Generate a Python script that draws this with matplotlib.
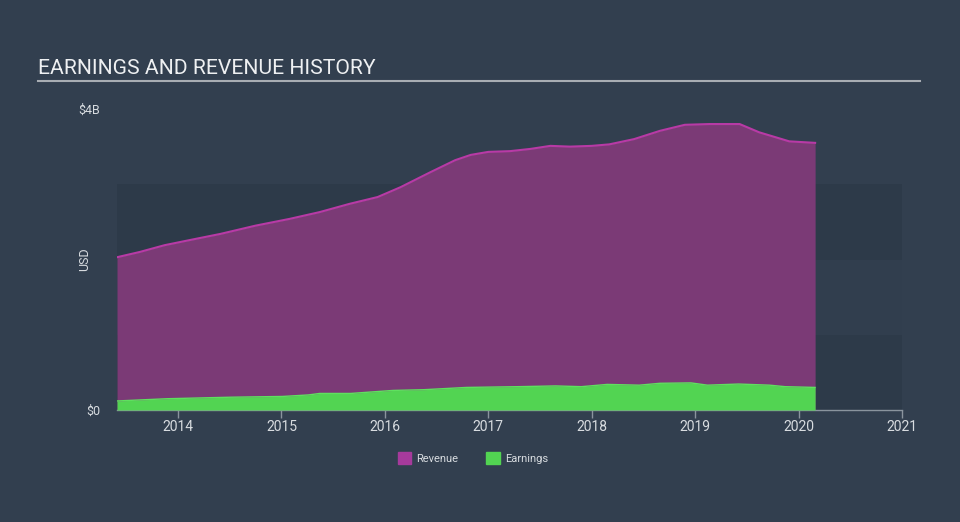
import numpy as np
import matplotlib.pyplot as plt
from matplotlib.patches import Patch

plt.rcParams['font.family'] = ['Roboto', 'DejaVu Sans']

# values in $B, dates as decimal years
rev_years = [2013.41, 2013.63, 2013.87, 2014.12, 2014.41, 2014.75, 2015.08, 2015.37,
             2015.66, 2015.93, 2016.15, 2016.44, 2016.68, 2016.83, 2017.00, 2017.21,
             2017.41, 2017.60, 2017.79, 2018.00, 2018.17, 2018.41, 2018.66, 2018.90,
             2019.14, 2019.43, 2019.62, 2019.91, 2020.16]
revenue = [2.03, 2.10, 2.19, 2.26, 2.34, 2.45, 2.54, 2.63,
           2.74, 2.83, 2.96, 3.16, 3.32, 3.39, 3.43, 3.44,
           3.47, 3.51, 3.50, 3.51, 3.53, 3.60, 3.71, 3.79,
           3.80, 3.80, 3.69, 3.57, 3.55]

earn_years = [2013.41, 2013.90, 2014.51, 2015.01, 2015.26, 2015.37, 2015.67, 2016.08,
              2016.38, 2016.79, 2017.29, 2017.65, 2017.90, 2018.15, 2018.46, 2018.66,
              2018.96, 2019.12, 2019.42, 2019.72, 2019.87, 2020.16]
earnings = [0.12, 0.15, 0.17, 0.18, 0.20, 0.22, 0.22, 0.26,
            0.27, 0.30, 0.31, 0.32, 0.31, 0.34, 0.33, 0.355,
            0.36, 0.33, 0.345, 0.33, 0.31, 0.30]

year_ticks = [2014, 2015, 2016, 2017, 2018, 2019, 2020, 2021]

BG = '#323f4f'
BAND = '#2d3a49'
TXT = '#d8dce0'

fig = plt.figure(figsize=(9.6, 5.22), dpi=100, facecolor=BG)
ax = fig.add_axes([117/960, 1 - 410/522, 785/960, 301/522])
ax.set_facecolor(BG)

# shaded bands
ax.axhspan(0, 1, color=BAND, zorder=0, lw=0)
ax.axhspan(1, 2, color='#313e4e', zorder=0, lw=0)
ax.axhspan(2, 3, color=BAND, zorder=0, lw=0)

ax.fill_between(rev_years, 0, revenue, color='#7b3a76', lw=0, zorder=2)
ax.plot(rev_years, revenue, color='#b83aa6', lw=1.5, zorder=3)
ax.fill_between(earn_years, 0, earnings, color='#52d452', lw=0, zorder=4)
ax.plot(earn_years, earnings, color='#5fe05f', lw=1, zorder=4)

ax.set_xlim(2013.41, 2021.0)
ax.set_ylim(0, 4)
for s in ['top', 'right', 'left']:
    ax.spines[s].set_visible(False)
ax.spines['bottom'].set_color('#8a949e')
ax.spines['bottom'].set_linewidth(1)

ax.set_xticks(year_ticks)
ax.set_xticklabels([str(y) for y in year_ticks])
ax.tick_params(axis='x', colors='#8a949e', length=6, width=1, labelcolor=TXT,
               labelsize=10, pad=1)
ax.set_yticks([0, 4])
ax.set_yticklabels(['$0', '$4B'])
ax.tick_params(axis='y', length=0, labelcolor=TXT, labelsize=9, pad=12)
ax.set_ylabel('USD', color=TXT, fontsize=9)
ax.yaxis.set_label_coords(-0.033, 0.5)

fig.text(38/960, 1 - 68/522, 'EARNINGS AND REVENUE HISTORY', color='#eef0f2',
         fontsize=15.2, va='center', ha='left')
fig.add_artist(plt.Line2D([38/960, 920/960], [1 - 81/522, 1 - 81/522],
                          color='#a8adb3', lw=1.5))

handles = [Patch(color='#a63a9c', label='Revenue'),
           Patch(color='#52d452', label='Earnings')]
fig.legend(handles=handles, loc='center', bbox_to_anchor=(473/960, 1 - 458/522),
           ncol=2, frameon=False, fontsize=8, labelcolor=TXT,
           handlelength=1.2, handleheight=1.2, columnspacing=2.5, handletextpad=0.5)

fig.savefig('out.png', dpi=100, facecolor=BG)
